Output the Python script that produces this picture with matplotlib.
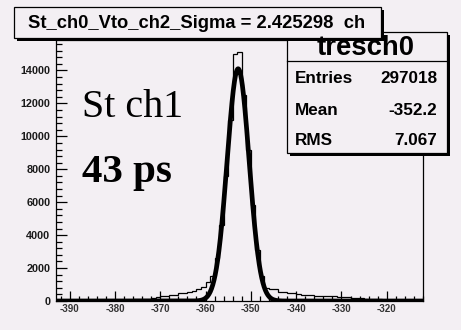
import numpy as np
import matplotlib
matplotlib.use("Agg")
import matplotlib.pyplot as plt
from matplotlib.patches import Rectangle
from matplotlib.ticker import MultipleLocator

plt.rcParams["axes.unicode_minus"] = False

# ---- data -------------------------------------------------------------
bin_edges = np.arange(-393, -311)          # 1-channel bins
counts = [
    # -393 .. -371
    20, 20, 25, 25, 30, 30, 35, 35, 40, 45, 50, 55, 60, 60, 70, 80, 90,
    100, 110, 130, 150, 180, 220,
    # -370 .. -360
    300, 330, 360, 380, 480, 500, 520, 600, 700, 850, 1150,
    # -359 .. -345
    1500, 2600, 4600, 7600, 11000, 15000, 15100, 12500, 9200, 5800, 3100,
    1500, 800, 730, 700,
    # -344 .. -313
    560, 540, 500, 480, 420, 380, 360, 340, 320, 300, 300, 290, 280, 260,
    240, 220, 200, 180, 160, 140, 120, 110, 100, 90, 80, 70, 60, 55, 50,
    45, 40, 35,
]

# gaussian fit parameters
fit_amp = 14100.0
fit_mean = -352.8
fit_sigma = 2.425298

hist_name = "tresch0"
stat_labels = ["Entries", "Mean", "RMS"]
stat_values = ["297018", "-352.2", "7.067"]
title_text = f"St_ch0_Vto_ch2_Sigma = {fit_sigma:.6f}  ch"
note_line1 = "St ch1"
note_line2 = "43 ps"

x_range = (-393, -312)
y_range = (0, 15850)

# ---- figure -----------------------------------------------------------
W, H = 461, 330
bg = "#f3eff3"
fig = plt.figure(figsize=(W / 100, H / 100), dpi=100, facecolor=bg)

def frac(x0, y0, x1, y1):
    return [x0 / W, 1 - y1 / H, (x1 - x0) / W, (y1 - y0) / H]

ax = fig.add_axes(frac(56, 40, 423, 301))
ax.set_facecolor(bg)

# fit curve (thick)
xf = np.linspace(x_range[0], x_range[1], 1200)
yf = fit_amp * np.exp(-0.5 * ((xf - fit_mean) / fit_sigma) ** 2)
ax.plot(xf, yf, color="black", lw=3.4, solid_joinstyle="miter", zorder=2)

# histogram (thin steps)
ax.stairs(counts, bin_edges, color="black", lw=0.9, zorder=3)

ax.set_xlim(*x_range)
ax.set_ylim(*y_range)

for s in ax.spines.values():
    s.set_linewidth(0.9)

ax.xaxis.set_major_locator(MultipleLocator(10))
ax.xaxis.set_minor_locator(MultipleLocator(2))
ax.yaxis.set_major_locator(MultipleLocator(2000))
ax.yaxis.set_minor_locator(MultipleLocator(400))
ax.tick_params(axis="both", which="both", direction="in", color="black",
               top=False, right=False)
ax.tick_params(axis="y", which="major", length=8, width=0.9, pad=4)
ax.tick_params(axis="y", which="minor", length=4.5, width=0.9)
ax.tick_params(axis="x", which="major", length=7, width=0.9, pad=2)
ax.tick_params(axis="x", which="minor", length=3.5, width=0.9)
for lab in ax.get_yticklabels():
    lab.set_fontfamily("Liberation Sans")
    lab.set_fontweight("bold")
    lab.set_fontsize(7.8)
    lab.set_color("#1a1a1a")
for lab in ax.get_xticklabels():
    lab.set_fontfamily("Liberation Sans")
    lab.set_fontweight("bold")
    lab.set_fontsize(7.0)
    lab.set_color("#333333")

# annotations inside the frame
fig.text(82 / W, 1 - 117 / H, note_line1, family="Liberation Serif",
         fontsize=28.8, va="baseline", ha="left", color="black")
fig.text(82 / W, 1 - 182 / H, note_line2, family="Liberation Serif",
         fontweight="bold", fontsize=29.5, va="baseline", ha="left",
         color="black")

# overlay in pixel coordinates for the boxes
ov = fig.add_axes([0, 0, 1, 1], facecolor="none", zorder=10)
ov.set_xlim(0, W)
ov.set_ylim(H, 0)
ov.axis("off")

def shadow_box(x0, y0, x1, y1, sh=2.5):
    ov.add_patch(Rectangle((x0 + sh, y0 + sh), x1 - x0, y1 - y0,
                           facecolor="black", edgecolor="none"))
    ov.add_patch(Rectangle((x0, y0), x1 - x0, y1 - y0, facecolor=bg,
                           edgecolor="black", lw=0.9))

# statistics box
shadow_box(287, 32, 447, 153)
ov.plot([287, 447], [61, 61], color="black", lw=0.9)
ov.text(366, 55, hist_name, family="Liberation Sans", fontweight="bold",
        fontsize=19.8, ha="center", va="baseline")
for lab, val, yb in zip(stat_labels, stat_values, [83, 115, 145]):
    ov.text(295, yb, lab, family="Liberation Sans", fontweight="bold",
            fontsize=12.3, ha="left", va="baseline")
    ov.text(437, yb, val, family="Liberation Sans", fontweight="bold",
            fontsize=12.3, ha="right", va="baseline")

# title box
shadow_box(14, 7, 381, 38)
ov.text(28, 23, title_text, family="Liberation Sans", fontweight="bold",
        fontsize=13.2, ha="left", va="center")

fig.savefig("out.png", dpi=100, facecolor=bg)
